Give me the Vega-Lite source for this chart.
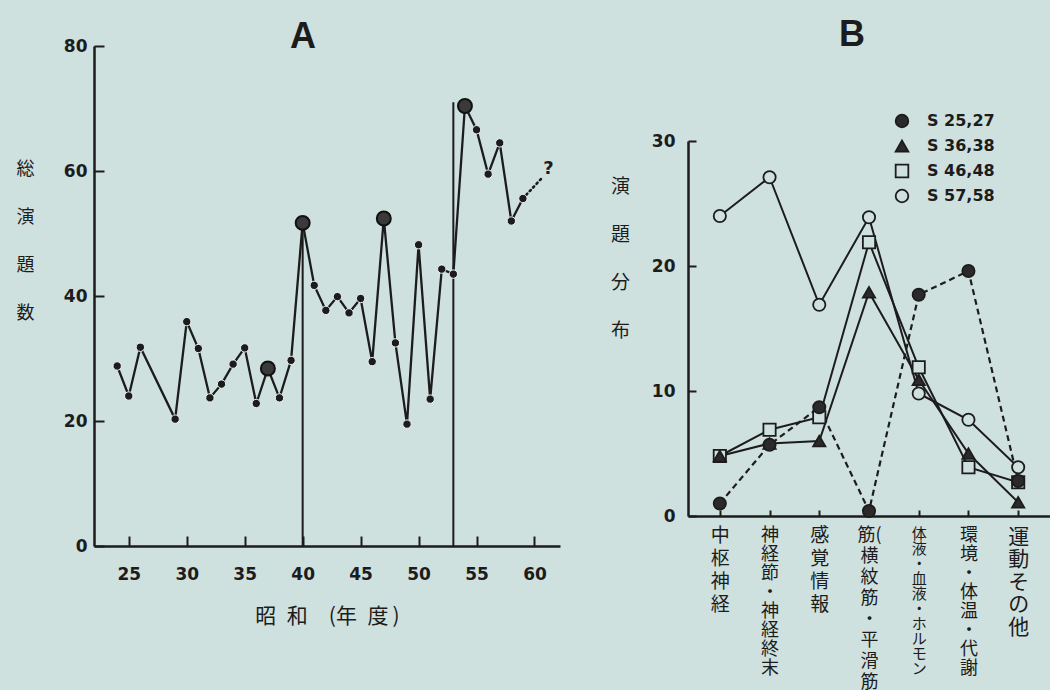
{
  "$schema": "https://vega.github.io/schema/vega-lite/v6.json",
  "background": "#cfe1df",
  "padding": {"left": 16, "top": 17, "right": 0, "bottom": 0},
  "spacing": 50,
  "resolve": {"scale": {"shape": "independent", "fill": "independent", "stroke": "independent"}, "legend": {"shape": "independent", "fill": "independent", "stroke": "independent"}},
  "config": {
    "view": {"stroke": null},
    "font": "DejaVu Sans",
    "axis": {
      "grid": false,
      "domainColor": "#1c1c1c",
      "domainWidth": 2.5,
      "tickColor": "#1c1c1c",
      "tickWidth": 2,
      "labelColor": "#1c1c1c",
      "titleColor": "#1c1c1c",
      "labelFont": "DejaVu Sans",
      "labelFontWeight": "bold",
      "labelFontSize": 17
    }
  },
  "datasets": {
    "total": [
      {"year": 24, "count": 28.8}, {"year": 25, "count": 24.0}, {"year": 26, "count": 31.8},
      {"year": 29, "count": 20.3}, {"year": 30, "count": 35.9}, {"year": 31, "count": 31.6},
      {"year": 32, "count": 23.7}, {"year": 33, "count": 25.9}, {"year": 34, "count": 29.1},
      {"year": 35, "count": 31.7}, {"year": 36, "count": 22.8}, {"year": 37, "count": 28.4},
      {"year": 38, "count": 23.7}, {"year": 39, "count": 29.7}, {"year": 40, "count": 51.7},
      {"year": 41, "count": 41.7}, {"year": 42, "count": 37.7}, {"year": 43, "count": 39.9},
      {"year": 44, "count": 37.3}, {"year": 45, "count": 39.6}, {"year": 46, "count": 29.5},
      {"year": 47, "count": 52.4}, {"year": 48, "count": 32.5}, {"year": 49, "count": 19.5},
      {"year": 50, "count": 48.2}, {"year": 51, "count": 23.5}, {"year": 52, "count": 44.3},
      {"year": 53, "count": 43.5}, {"year": 54, "count": 70.4}, {"year": 55, "count": 66.6},
      {"year": 56, "count": 59.5}, {"year": 57, "count": 64.5}, {"year": 58, "count": 52.0},
      {"year": 59, "count": 55.6}
    ],
    "eras": [{"year": 40, "top": 51.7}, {"year": 53, "top": 71}],
    "ext": [{"year": 59, "count": 55.6}, {"year": 60.6, "count": 58.8}],
    "note": [{"year": 61.2, "count": 60.3, "text": "?"}],
    "dist": [
      {"series": "S 57,58", "category": "中枢神経", "value": 24.0},
      {"series": "S 57,58", "category": "神経節・神経終末", "value": 27.1},
      {"series": "S 57,58", "category": "感覚情報", "value": 16.9},
      {"series": "S 57,58", "category": "筋(横紋筋・平滑筋)", "value": 23.9},
      {"series": "S 57,58", "category": "体液・血液・ホルモン", "value": 9.8},
      {"series": "S 57,58", "category": "環境・体温・代謝", "value": 7.7},
      {"series": "S 57,58", "category": "運動その他", "value": 3.9},
      {"series": "S 46,48", "category": "中枢神経", "value": 4.8},
      {"series": "S 46,48", "category": "神経節・神経終末", "value": 6.9},
      {"series": "S 46,48", "category": "感覚情報", "value": 7.9},
      {"series": "S 46,48", "category": "筋(横紋筋・平滑筋)", "value": 21.9},
      {"series": "S 46,48", "category": "体液・血液・ホルモン", "value": 11.9},
      {"series": "S 46,48", "category": "環境・体温・代謝", "value": 3.9},
      {"series": "S 46,48", "category": "運動その他", "value": 2.7},
      {"series": "S 36,38", "category": "中枢神経", "value": 4.8},
      {"series": "S 36,38", "category": "神経節・神経終末", "value": 5.8},
      {"series": "S 36,38", "category": "感覚情報", "value": 6.0},
      {"series": "S 36,38", "category": "筋(横紋筋・平滑筋)", "value": 17.9},
      {"series": "S 36,38", "category": "体液・血液・ホルモン", "value": 10.9},
      {"series": "S 36,38", "category": "環境・体温・代謝", "value": 5.0},
      {"series": "S 36,38", "category": "運動その他", "value": 1.1},
      {"series": "S 25,27", "category": "中枢神経", "value": 1.0},
      {"series": "S 25,27", "category": "神経節・神経終末", "value": 5.7},
      {"series": "S 25,27", "category": "感覚情報", "value": 8.7},
      {"series": "S 25,27", "category": "筋(横紋筋・平滑筋)", "value": 0.4},
      {"series": "S 25,27", "category": "体液・血液・ホルモン", "value": 17.7},
      {"series": "S 25,27", "category": "環境・体温・代謝", "value": 19.6},
      {"series": "S 25,27", "category": "運動その他", "value": 2.8}
    ]
  },
  "hconcat": [
    {
      "width": 466,
      "height": 500,
      "title": {"text": "A", "font": "Liberation Sans", "fontSize": 36, "fontWeight": "bold", "color": "#1c1c1c", "anchor": "middle", "dx": -24, "baseline": "alphabetic", "offset": -47},
      "layer": [
        {
          "data": {"name": "eras"},
          "mark": {"type": "rule", "color": "#1c1c1c", "strokeWidth": 2},
          "encoding": {
            "x": {"field": "year", "type": "quantitative"},
            "y": {"field": "top", "type": "quantitative"},
            "y2": {"datum": 0}
          }
        },
        {
          "data": {"name": "total"},
          "mark": {"type": "line", "color": "#1c1c1c", "strokeWidth": 2.3},
          "encoding": {
            "x": {
              "field": "year", "type": "quantitative",
              "scale": {"domain": [22, 62.2], "nice": false, "zero": false},
              "axis": {
                "values": [25, 30, 35, 40, 45, 50, 55, 60],
                "title": "昭\u2002和\u2003(年\u2002度\u2009)",
                "titleFont": "Noto Sans CJK JP", "titleFontSize": 21, "titleFontWeight": "normal",
                "titlePadding": 23,
                "tickSize": -10, "labelPadding": 30
              }
            },
            "y": {
              "field": "count", "type": "quantitative",
              "scale": {"domain": [0, 80], "nice": false},
              "axis": {
                "values": [0, 20, 40, 60, 80],
                "title": ["総", "演", "題", "数"],
                "titleFont": "Noto Sans CJK JP", "titleFontSize": 18, "titleFontWeight": "normal",
                "titleAngle": 0, "titleAlign": "center", "titleBaseline": "top",
                "titleX": -69, "titleY": 114, "titleLineHeight": 48,
                "tickSize": -10, "labelPadding": 17
              }
            }
          }
        },
        {
          "data": {"name": "ext"},
          "mark": {"type": "line", "color": "#1c1c1c", "strokeWidth": 2.6, "strokeDash": [1.5, 3.5], "strokeCap": "round"},
          "encoding": {
            "x": {"field": "year", "type": "quantitative"},
            "y": {"field": "count", "type": "quantitative"}
          }
        },
        {
          "data": {"name": "total"},
          "transform": [{"filter": {"not": {"field": "year", "oneOf": [37, 40, 47, 54]}}}],
          "mark": {"type": "point", "filled": true, "size": 70, "color": "#1c1c1c", "stroke": "#eef5f4", "strokeWidth": 1, "opacity": 1},
          "encoding": {
            "x": {"field": "year", "type": "quantitative"},
            "y": {"field": "count", "type": "quantitative"}
          }
        },
        {
          "data": {"name": "total"},
          "transform": [{"filter": {"field": "year", "oneOf": [37, 40, 47, 54]}}],
          "mark": {"type": "point", "filled": true, "size": 195, "fill": "#3a3a3a", "stroke": "#111111", "strokeWidth": 2, "opacity": 1},
          "encoding": {
            "x": {"field": "year", "type": "quantitative"},
            "y": {"field": "count", "type": "quantitative"}
          }
        },
        {
          "data": {"name": "note"},
          "mark": {"type": "text", "font": "DejaVu Sans", "fontWeight": "bold", "fontSize": 18, "color": "#1c1c1c"},
          "encoding": {
            "x": {"field": "year", "type": "quantitative"},
            "y": {"field": "count", "type": "quantitative"},
            "text": {"field": "text"}
          }
        }
      ]
    },
    {
      "spacing": 0,
      "bounds": "flush",
      "resolve": {"scale": {"shape": "independent", "fill": "independent", "stroke": "independent"}, "legend": {"shape": "independent", "fill": "independent", "stroke": "independent"}},
      "vconcat": [
        {
          "width": 362,
          "height": 95,
          "title": {"text": "B", "font": "Liberation Sans", "fontSize": 36, "fontWeight": "bold", "color": "#1c1c1c", "anchor": "middle", "dx": -17, "baseline": "alphabetic", "offset": -36},
          "data": {"values": []},
          "mark": {"type": "point", "opacity": 0},
          "encoding": {}
        },
        {
          "width": 362,
          "height": 375,
          "data": {"name": "dist"},
          "encoding": {
            "x": {
              "field": "category", "type": "nominal",
              "scale": {"type": "point", "padding": 0.64, "domain": ["中枢神経", "神経節・神経終末", "感覚情報", "筋(横紋筋・平滑筋)", "体液・血液・ホルモン", "環境・体温・代謝", "運動その他"]},
              "axis": {
                "title": null,
                "labelExpr": "split(replace(replace(replace(datum.label, regexp('(.)(?!$)', 'g'), '$1|'), '|(|', '(|'), ')', '︶'), '|')",
                "labelAngle": 0, "labelAlign": "center", "labelBaseline": "top",
                "labelFont": "Noto Sans CJK JP", "labelFontWeight": "normal",
                "labelFontSize": {"expr": "datum.value == '中枢神経' || datum.value == '感覚情報' ? 19 : datum.value == '体液・血液・ホルモン' ? 15 : datum.value == '運動その他' ? 21 : 18"},
                "labelLineHeight": {"expr": "datum.value == '中枢神経' || datum.value == '感覚情報' ? 23 : datum.value == '体液・血液・ホルモン' ? 15 : datum.value == '運動その他' ? 22.5 : datum.value == '筋(横紋筋・平滑筋)' ? 21 : 19"},
                "labelOverlap": false, "labelBound": false, "labelLimit": 0,
                "tickSize": -6, "labelPadding": 16
              }
            },
            "y": {
              "field": "value", "type": "quantitative",
              "scale": {"domain": [0, 30], "nice": false},
              "axis": {
                "values": [0, 10, 20, 30],
                "title": ["演", "題", "分", "布"],
                "titleFont": "Noto Sans CJK JP", "titleFontSize": 19, "titleFontWeight": "normal",
                "titleAngle": 0, "titleAlign": "center", "titleBaseline": "top",
                "titleX": -68, "titleY": 36, "titleLineHeight": 48,
                "tickSize": -8, "labelPadding": 21
              }
            }
          },
          "layer": [
            {
              "transform": [{"filter": "datum.series != 'S 25,27'"}],
              "mark": {"type": "line", "color": "#1c1c1c", "strokeWidth": 2},
              "encoding": {"detail": {"field": "series", "type": "nominal"}}
            },
            {
              "transform": [{"filter": "datum.series == 'S 25,27'"}],
              "mark": {"type": "line", "color": "#1c1c1c", "strokeWidth": 2.2, "strokeDash": [6, 4]},
              "encoding": {"detail": {"field": "series", "type": "nominal"}}
            },
            {
              "mark": {"type": "point", "filled": true, "size": 150, "strokeWidth": 1.8, "opacity": 1},
              "encoding": {
                "shape": {
                  "field": "series", "type": "nominal",
                  "scale": {"domain": ["S 25,27", "S 36,38", "S 46,48", "S 57,58"], "range": ["circle", "triangle-up", "square", "circle"]},
                  "legend": {
                    "orient": "none", "legendX": 206, "legendY": -28, "title": null,
                    "labelFont": "DejaVu Sans", "labelFontWeight": "bold", "labelFontSize": 16, "labelColor": "#1c1c1c",
                    "symbolSize": 160, "symbolStrokeWidth": 1.8,
                    "rowPadding": 5, "labelOffset": 17
                  }
                },
                "fill": {
                  "field": "series", "type": "nominal",
                  "scale": {"domain": ["S 25,27", "S 36,38", "S 46,48", "S 57,58"], "range": ["#2a2a2a", "#2a2a2a", "#cfe1df", "#cfe1df"]},
                  "legend": {
                    "orient": "none", "legendX": 206, "legendY": -28, "title": null,
                    "labelFont": "DejaVu Sans", "labelFontWeight": "bold", "labelFontSize": 16, "labelColor": "#1c1c1c",
                    "symbolSize": 160, "symbolStrokeWidth": 1.8,
                    "rowPadding": 5, "labelOffset": 17
                  }
                },
                "stroke": {
                  "field": "series", "type": "nominal",
                  "scale": {"domain": ["S 25,27", "S 36,38", "S 46,48", "S 57,58"], "range": ["#1c1c1c", "#1c1c1c", "#1c1c1c", "#1c1c1c"]},
                  "legend": {
                    "orient": "none", "legendX": 206, "legendY": -28, "title": null,
                    "labelFont": "DejaVu Sans", "labelFontWeight": "bold", "labelFontSize": 16, "labelColor": "#1c1c1c",
                    "symbolSize": 160, "symbolStrokeWidth": 1.8,
                    "rowPadding": 5, "labelOffset": 17
                  }
                }
              }
            }
          ]
        }
      ]
    }
  ]
}
